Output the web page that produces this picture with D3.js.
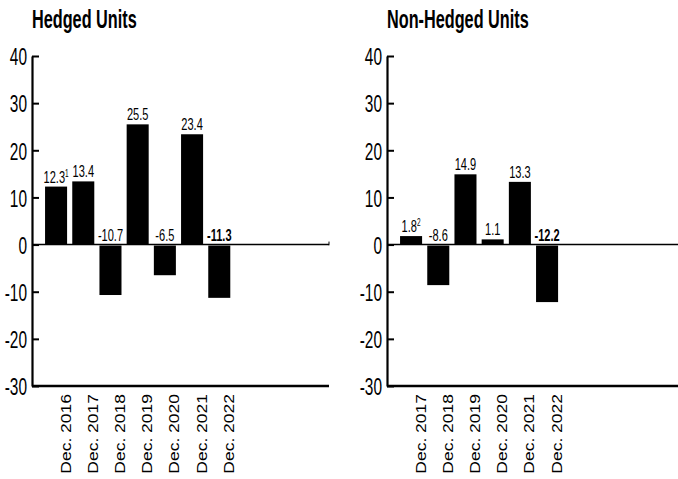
<!DOCTYPE html>
<html>
<head>
<meta charset="utf-8">
<script src="https://cdn.jsdelivr.net/npm/d3@7"></script>
<style>
	body { margin: 0; background: #fff; }
	svg { display: block; }
	.narrow { font-family: "Liberation Sans Narrow", "Liberation Sans", Arial, sans-serif; }
	.xlab { font-family: "Liberation Sans", Arial, sans-serif; font-size: 14px; }
</style>
</head>
<body>
<div class="charts"></div>
<script>
var hedgedCats = ['Dec. 2016', 'Dec. 2017', 'Dec. 2018', 'Dec. 2019', 'Dec. 2020', 'Dec. 2021', 'Dec. 2022'];
var hedgedValues = [12.3, 13.4, -10.7, 25.5, -6.5, 23.4, -11.3];
var hedgedNotes = ['1', '', '', '', '', '', ''];

var nonHedgedCats = ['Dec. 2017', 'Dec. 2018', 'Dec. 2019', 'Dec. 2020', 'Dec. 2021', 'Dec. 2022'];
var nonHedgedValues = [1.8, -8.6, 14.9, 1.1, 13.3, -12.2];
var nonHedgedNotes = ['2', '', '', '', '', ''];

var yTicks = [40, 30, 20, 10, 0, -10, -20, -30];

var width = 678, height = 479;
var step = 27.2,
    padIn = 0.19,
    padOut = 0.48,
    squeeze = 0.65;

var svg = d3.select('.charts').append('svg')
	.attr('width', width)
	.attr('height', height);

var y = d3.scaleLinear().domain([-30, 40]).range([386, 56]);

// condensed text: draw at origin then translate + squeeze horizontally
var narrowText = function(sel, x, yy, size) {
	return sel.append('text')
		.attr('class', 'narrow')
		.attr('transform', 'translate(' + x + ',' + yy + ') scale(' + squeeze + ',1)')
		.style('font-size', size + 'px');
};

var drawPanel = function(opts) {
	var g = svg.append('g');
	var ax = opts.axisX;
	var n = opts.cats.length;

	var x = d3.scaleBand()
		.domain(opts.cats)
		.range([ax, ax + step * (n - padIn + 2 * padOut)])
		.paddingInner(padIn)
		.paddingOuter(padOut);

	// title
	narrowText(g, ax, 28, 25)
		.style('font-weight', 'bold')
		.text(opts.title);

	// bars
	g.selectAll('.bar').data(opts.values)
		.enter().append('rect')
		.attr('class', 'bar')
		.attr('x', function(d, i) { return x(opts.cats[i]); })
		.attr('width', x.bandwidth())
		.attr('y', function(d) { return d >= 0 ? y(d) : y(0) + 1; })
		.attr('height', function(d) { return d >= 0 ? y(0) - y(d) : y(d) - y(0) - 1; })
		.attr('fill', '#000');

	// zero line and bottom line
	g.append('line')
		.attr('x1', ax).attr('x2', opts.endX)
		.attr('y1', y(0)).attr('y2', y(0))
		.attr('stroke', '#000').attr('stroke-width', 1.5);
	if(opts.endTick) {
		g.append('line')
			.attr('x1', opts.endX).attr('x2', opts.endX)
			.attr('y1', y(0) + 0.75).attr('y2', y(0) - 3)
			.attr('stroke', '#000').attr('stroke-width', 1);
	}
	g.append('line')
		.attr('x1', ax).attr('x2', opts.endX)
		.attr('y1', y(-30)).attr('y2', y(-30))
		.attr('stroke', '#000').attr('stroke-width', 2.5);

	// y axis, ticks pointing inward, plain hyphen for negatives
	var yAxis = g.append('g')
		.attr('transform', 'translate(' + ax + ',0)')
		.call(d3.axisLeft(y).tickValues(yTicks).tickSizeInner(-7).tickSizeOuter(0)
			.tickFormat(function(d) { return String(d); }));
	yAxis.select('.domain').attr('stroke-width', 2.2);
	yAxis.selectAll('.tick line').attr('stroke-width', 2);
	yAxis.selectAll('.tick text')
		.attr('class', 'narrow')
		.attr('x', 0)
		.attr('dy', '0.36em')
		.attr('transform', 'translate(-5,0) scale(' + (squeeze - 0.02) + ',1)')
		.style('font-size', '24.5px')
		.attr('fill', '#000');

	// value labels
	opts.values.forEach(function(v, i) {
		var cx = x(opts.cats[i]) + x.bandwidth() / 2;
		var ly = v >= 0 ? y(v) - 4 : y(0) - 4;
		var t = narrowText(g, cx, ly, 17)
			.attr('text-anchor', 'middle')
			.style('font-weight', i === n - 1 ? 'bold' : 'normal');
		t.append('tspan').text(v);
		if(opts.notes[i]) {
			t.append('tspan')
				.attr('dy', -6)
				.style('font-size', '10px')
				.text(opts.notes[i]);
		}
	});

	// category labels
	g.selectAll('.xlab').data(opts.cats)
		.enter().append('text')
		.attr('class', 'xlab')
		.attr('text-anchor', 'end')
		.attr('dy', '0.36em')
		.attr('transform', function(d) {
			return 'translate(' + (x(d) + x.bandwidth() / 2 + 9.5) + ',394) rotate(-90) scale(1.25,1)';
		})
		.text(function(d) { return d; });
};

drawPanel({
	title: 'Hedged Units',
	cats: hedgedCats,
	values: hedgedValues,
	notes: hedgedNotes,
	axisX: 32,
	endX: 329,
	endTick: true
});

drawPanel({
	title: 'Non-Hedged Units',
	cats: nonHedgedCats,
	values: nonHedgedValues,
	notes: nonHedgedNotes,
	axisX: 387,
	endX: 678,
	endTick: false
});
</script>
</body>
</html>
